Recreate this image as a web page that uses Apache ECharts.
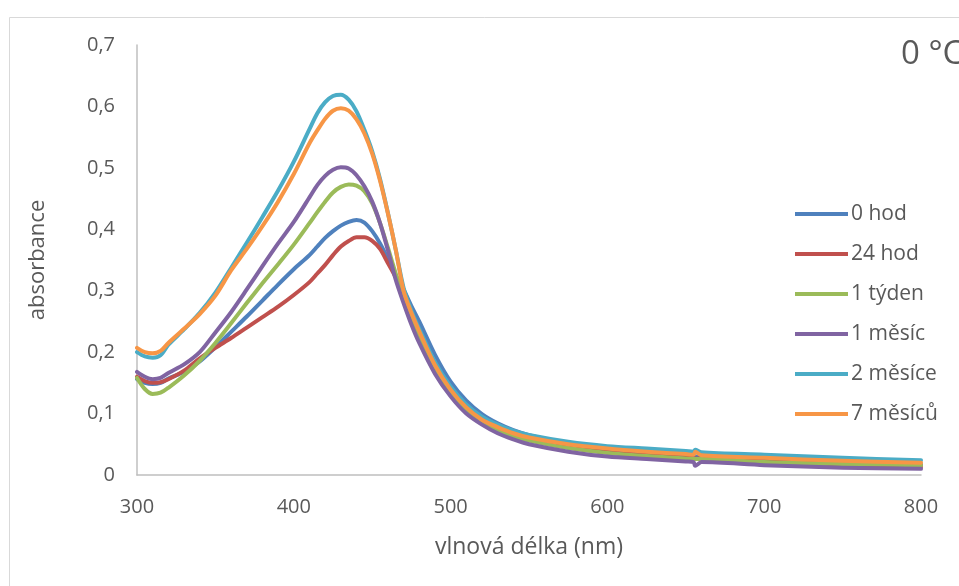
<!DOCTYPE html>
<html>
<head>
<meta charset="utf-8">
<script src="https://cdn.jsdelivr.net/npm/echarts@6/dist/echarts.min.js"></script>
<style>
  html, body { margin: 0; padding: 0; background: #ffffff; }
  #chart { width: 959px; height: 586px; }
</style>
</head>
<body>
<div id="chart"></div>
<script>
// Wavelength grid (nm)
const wavelengths = [300,305,310,315,320,330,340,350,360,370,380,390,400,410,415,420,425,430,435,440,445,450,455,460,465,470,475,480,490,500,510,520,530,540,550,575,600,625,650,655,656,660,700,750,800];

// Absorbance of each sample, one value per wavelength
const hod0 = [0.156,0.150,0.148,0.150,0.157,0.168,0.185,0.208,0.233,0.258,0.284,0.310,0.335,0.358,0.372,0.386,0.397,0.406,0.412,0.415,0.411,0.397,0.377,0.352,0.325,0.302,0.275,0.250,0.196,0.152,0.121,0.099,0.084,0.073,0.065,0.051,0.040,0.035,0.031,0.030,0.030,0.030,0.025,0.020,0.017];
const hod24 = [0.160,0.153,0.150,0.151,0.156,0.170,0.190,0.207,0.223,0.240,0.257,0.274,0.293,0.314,0.328,0.342,0.358,0.372,0.381,0.387,0.387,0.381,0.368,0.345,0.322,0.298,0.266,0.236,0.182,0.140,0.109,0.089,0.076,0.066,0.058,0.046,0.037,0.032,0.028,0.027,0.027,0.027,0.022,0.017,0.013];
const tyden1 = [0.158,0.140,0.132,0.134,0.142,0.162,0.186,0.215,0.247,0.280,0.312,0.343,0.375,0.410,0.428,0.445,0.460,0.469,0.473,0.471,0.462,0.442,0.410,0.370,0.328,0.292,0.256,0.228,0.174,0.134,0.105,0.086,0.073,0.063,0.056,0.044,0.036,0.031,0.027,0.026,0.026,0.026,0.021,0.018,0.016];
const mesic1 = [0.168,0.160,0.156,0.158,0.166,0.180,0.200,0.232,0.265,0.302,0.340,0.377,0.412,0.452,0.472,0.487,0.497,0.501,0.499,0.488,0.470,0.445,0.410,0.366,0.318,0.280,0.245,0.215,0.165,0.128,0.100,0.082,0.068,0.058,0.050,0.038,0.030,0.026,0.022,0.021,0.015,0.021,0.016,0.012,0.010];
const mesice2 = [0.200,0.193,0.191,0.195,0.212,0.237,0.264,0.297,0.337,0.378,0.420,0.463,0.510,0.563,0.589,0.607,0.617,0.619,0.611,0.592,0.562,0.527,0.482,0.427,0.367,0.305,0.268,0.238,0.184,0.144,0.115,0.095,0.082,0.072,0.065,0.054,0.047,0.043,0.039,0.038,0.041,0.037,0.033,0.028,0.024];
const mesicu7 = [0.207,0.200,0.198,0.202,0.215,0.238,0.262,0.292,0.333,0.368,0.405,0.445,0.490,0.540,0.561,0.580,0.593,0.597,0.593,0.579,0.556,0.523,0.479,0.426,0.367,0.300,0.264,0.234,0.179,0.139,0.110,0.090,0.078,0.068,0.061,0.050,0.043,0.038,0.034,0.033,0.038,0.032,0.028,0.023,0.020];

const seriesNames = ['0 hod', '24 hod', '1 týden', '1 měsíc', '2 měsíce', '7 měsíců'];
const seriesValues = [hod0, hod24, tyden1, mesic1, mesice2, mesicu7];
const seriesColors = ['#4F81BD', '#C0504D', '#9BBB59', '#8064A2', '#4BACC6', '#F79646'];

const FONT = '"Open Sans", "DejaVu Sans", sans-serif';
const TEXT = '#595959';

const chart = echarts.init(document.getElementById('chart'), null, { renderer: 'canvas' });

const series = seriesNames.map((name, i) => ({
  name: name,
  type: 'line',
  data: wavelengths.map((w, k) => [w, seriesValues[i][k]]),
  showSymbol: false,
  symbol: 'none',
  smooth: 0.3,
  lineStyle: { width: 4, color: seriesColors[i], cap: 'round', join: 'round' },
  itemStyle: { color: seriesColors[i] },
  emphasis: { disabled: true },
  animation: false,
  z: 2 + i
}));

chart.setOption({
  animation: false,
  backgroundColor: '#ffffff',
  title: {
    text: '0 °C',
    left: 896,
    top: 33,
    textStyle: { fontFamily: FONT, fontSize: 33, fontWeight: 'normal', color: TEXT }
  },
  graphic: [{
    type: 'rect',
    shape: { x: 9.5, y: 17.5, width: 1000, height: 1000 },
    style: { fill: 'none', stroke: '#d9d9d9', lineWidth: 1 },
    silent: true,
    z: -10
  }],
  legend: {
    orient: 'vertical',
    left: 790,
    top: 198,
    icon: 'rect',
    itemWidth: 53,
    itemHeight: 4,
    itemGap: 18,
    textStyle: { fontFamily: FONT, fontSize: 21, color: TEXT, lineHeight: 22, padding: [0, 0, 0, -2] },
    data: seriesNames
  },
  grid: { left: 137, right: 38, top: 45, bottom: 111, containLabel: false },
  xAxis: {
    type: 'value',
    min: 300,
    max: 800,
    interval: 100,
    name: 'vlnová délka (nm)',
    nameLocation: 'middle',
    nameGap: 61,
    nameTextStyle: { fontFamily: FONT, fontSize: 23, color: TEXT },
    axisLine: { show: true, lineStyle: { color: '#bfbfbf', width: 1.5 } },
    axisTick: { show: false },
    splitLine: { show: false },
    axisLabel: { fontFamily: FONT, fontSize: 20, color: TEXT, margin: 22 }
  },
  yAxis: {
    type: 'value',
    min: 0,
    max: 0.7,
    interval: 0.1,
    name: 'absorbance',
    nameLocation: 'middle',
    nameGap: 88,
    nameRotate: 90,
    nameTextStyle: { fontFamily: FONT, fontSize: 22, color: TEXT },
    axisLine: { show: true, lineStyle: { color: '#bfbfbf', width: 1.5 } },
    axisTick: { show: false },
    splitLine: { show: false },
    axisLabel: {
      fontFamily: FONT, fontSize: 20, color: TEXT, margin: 22,
      formatter: v => (Math.round(v * 10) / 10).toString().replace('.', ',')
    }
  },
  series: series
});
</script>
</body>
</html>
